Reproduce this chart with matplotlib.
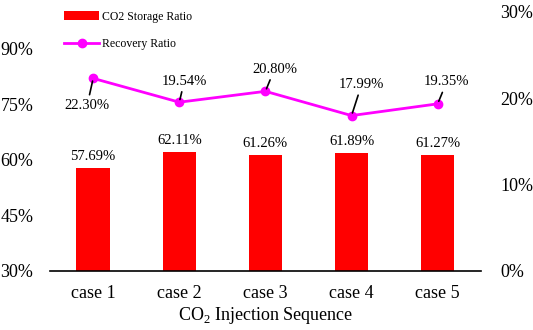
import matplotlib

matplotlib.use("Agg")

import matplotlib.pyplot as plt
from matplotlib.ticker import PercentFormatter

plt.rcParams["font.family"] = ["Liberation Serif", "DejaVu Serif"]
plt.rcParams["mathtext.fontset"] = "custom"
plt.rcParams["mathtext.rm"] = "Liberation Serif"

cases = ["case 1", "case 2", "case 3", "case 4", "case 5"]
storage_ratio = [57.69, 62.11, 61.26, 61.89, 61.27]
recovery_ratio = [22.30, 19.54, 20.80, 17.99, 19.35]
# label offsets (pixels) for the recovery line labels
rec_offsets = [(-6, -27), (5, 21), (9, 22), (10, 31), (9, 22)]

fig = plt.figure(figsize=(5.33, 3.3), dpi=100)
ax = fig.add_axes([0.094, 0.179, 0.808, 0.785])
ax2 = ax.twinx()

x = list(range(len(cases)))
bars = ax.bar(x, storage_ratio, width=0.39, color="#FF0000", label="CO2 Storage Ratio", zorder=2)
ax.set_ylim(30, 100)
ax.set_yticks([30, 45, 60, 75, 90])
ax.yaxis.set_major_formatter(PercentFormatter(decimals=0))
ax.set_xlim(-0.5, 4.5)
ax.set_xticks(x)
ax.set_xticklabels(cases)
ax.set_xlabel(r"CO$_\mathrm{2}$ Injection Sequence", fontsize=13, labelpad=2)

for xi, v in zip(x, storage_ratio):
    ax.annotate(f"{v:.2f}%", (xi, v), xytext=(0, 5), textcoords="offset pixels",
                ha="center", va="bottom", fontsize=10.5)

line, = ax2.plot(x, recovery_ratio, color="#FF00FF", lw=2, marker="o", ms=6,
                 label="Recovery Ratio", zorder=3)
ax2.set_ylim(0, 30)
ax2.set_yticks([0, 10, 20, 30])
ax2.yaxis.set_major_formatter(PercentFormatter(decimals=0))

for xi, v, (dx, dy) in zip(x, recovery_ratio, rec_offsets):
    ax2.annotate(f"{v:.2f}%", (xi, v), xytext=(dx, dy), textcoords="offset pixels",
                 ha="center", va="center", fontsize=10.5,
                 arrowprops=dict(arrowstyle="-", color="black", lw=1.2, shrinkA=1, shrinkB=2))

for a in (ax, ax2):
    for s in ("top", "left", "right"):
        a.spines[s].set_visible(False)
    a.tick_params(length=0, labelsize=13)
ax.spines["bottom"].set_linewidth(1.2)
ax2.spines["bottom"].set_visible(False)
ax.tick_params(axis="x", pad=10)
ax.tick_params(axis="y", pad=12)
ax2.tick_params(axis="y", pad=14)

fig.legend([bars, line], ["CO2 Storage Ratio", "Recovery Ratio"], loc="upper left",
           bbox_to_anchor=(0.1, 1.0), frameon=False, labelspacing=1.3,
           handlelength=3.0, handletextpad=0.2,
           prop={"family": "Liberation Serif", "size": 8.5})

fig.savefig("out.png", dpi=100)
